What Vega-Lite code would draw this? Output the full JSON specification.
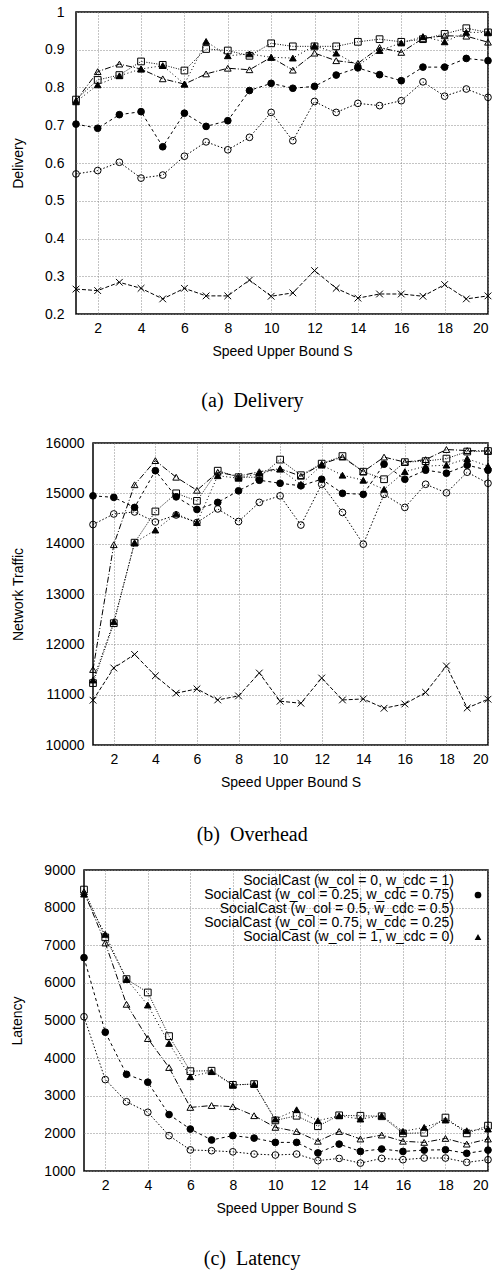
{
"$schema": "https://vega.github.io/schema/vega-lite/v6.json",
"background": "white",
"padding": {"left": 9, "top": 4, "right": 0, "bottom": 0},
"config": {
  "font": "Liberation Sans",
  "view": {"stroke": "black", "strokeWidth": 1.5},
  "axis": {"labelFont": "Liberation Sans", "labelFontSize": 14, "labelColor": "black", "titleFont": "Liberation Sans", "titleFontSize": 14, "titleFontWeight": "normal", "titleColor": "black", "domain": false, "ticks": false, "grid": true, "gridColor": "#888888", "gridDash": [1, 2], "gridWidth": 1, "gridOpacity": 1},
  "title": {"font": "Liberation Serif", "fontSize": 20, "fontWeight": "normal", "color": "black", "orient": "bottom", "anchor": "middle", "frame": "bounds"},
  "legend": {"labelFont": "Liberation Sans", "labelFontSize": 14, "labelColor": "black", "labelLimit": 400, "titleFont": "Liberation Sans"}
},
"datasets": {
"delivery": [
{"S":1,"series":"SocialCast (w_col = 0, w_cdc = 1)","v":0.571},{"S":2,"series":"SocialCast (w_col = 0, w_cdc = 1)","v":0.580},{"S":3,"series":"SocialCast (w_col = 0, w_cdc = 1)","v":0.602},{"S":4,"series":"SocialCast (w_col = 0, w_cdc = 1)","v":0.560},{"S":5,"series":"SocialCast (w_col = 0, w_cdc = 1)","v":0.568},{"S":6,"series":"SocialCast (w_col = 0, w_cdc = 1)","v":0.618},{"S":7,"series":"SocialCast (w_col = 0, w_cdc = 1)","v":0.656},{"S":8,"series":"SocialCast (w_col = 0, w_cdc = 1)","v":0.635},{"S":9,"series":"SocialCast (w_col = 0, w_cdc = 1)","v":0.668},{"S":10,"series":"SocialCast (w_col = 0, w_cdc = 1)","v":0.734},{"S":11,"series":"SocialCast (w_col = 0, w_cdc = 1)","v":0.659},{"S":12,"series":"SocialCast (w_col = 0, w_cdc = 1)","v":0.763},{"S":13,"series":"SocialCast (w_col = 0, w_cdc = 1)","v":0.734},{"S":14,"series":"SocialCast (w_col = 0, w_cdc = 1)","v":0.758},{"S":15,"series":"SocialCast (w_col = 0, w_cdc = 1)","v":0.752},{"S":16,"series":"SocialCast (w_col = 0, w_cdc = 1)","v":0.765},{"S":17,"series":"SocialCast (w_col = 0, w_cdc = 1)","v":0.815},{"S":18,"series":"SocialCast (w_col = 0, w_cdc = 1)","v":0.777},{"S":19,"series":"SocialCast (w_col = 0, w_cdc = 1)","v":0.796},{"S":20,"series":"SocialCast (w_col = 0, w_cdc = 1)","v":0.774},
{"S":1,"series":"SocialCast (w_col = 0.25, w_cdc = 0.75)","v":0.703},{"S":2,"series":"SocialCast (w_col = 0.25, w_cdc = 0.75)","v":0.692},{"S":3,"series":"SocialCast (w_col = 0.25, w_cdc = 0.75)","v":0.728},{"S":4,"series":"SocialCast (w_col = 0.25, w_cdc = 0.75)","v":0.736},{"S":5,"series":"SocialCast (w_col = 0.25, w_cdc = 0.75)","v":0.643},{"S":6,"series":"SocialCast (w_col = 0.25, w_cdc = 0.75)","v":0.732},{"S":7,"series":"SocialCast (w_col = 0.25, w_cdc = 0.75)","v":0.697},{"S":8,"series":"SocialCast (w_col = 0.25, w_cdc = 0.75)","v":0.712},{"S":9,"series":"SocialCast (w_col = 0.25, w_cdc = 0.75)","v":0.792},{"S":10,"series":"SocialCast (w_col = 0.25, w_cdc = 0.75)","v":0.811},{"S":11,"series":"SocialCast (w_col = 0.25, w_cdc = 0.75)","v":0.798},{"S":12,"series":"SocialCast (w_col = 0.25, w_cdc = 0.75)","v":0.803},{"S":13,"series":"SocialCast (w_col = 0.25, w_cdc = 0.75)","v":0.833},{"S":14,"series":"SocialCast (w_col = 0.25, w_cdc = 0.75)","v":0.852},{"S":15,"series":"SocialCast (w_col = 0.25, w_cdc = 0.75)","v":0.834},{"S":16,"series":"SocialCast (w_col = 0.25, w_cdc = 0.75)","v":0.818},{"S":17,"series":"SocialCast (w_col = 0.25, w_cdc = 0.75)","v":0.854},{"S":18,"series":"SocialCast (w_col = 0.25, w_cdc = 0.75)","v":0.854},{"S":19,"series":"SocialCast (w_col = 0.25, w_cdc = 0.75)","v":0.877},{"S":20,"series":"SocialCast (w_col = 0.25, w_cdc = 0.75)","v":0.871},
{"S":1,"series":"SocialCast (w_col = 0.5, w_cdc = 0.5)","v":0.765},{"S":2,"series":"SocialCast (w_col = 0.5, w_cdc = 0.5)","v":0.842},{"S":3,"series":"SocialCast (w_col = 0.5, w_cdc = 0.5)","v":0.862},{"S":4,"series":"SocialCast (w_col = 0.5, w_cdc = 0.5)","v":0.849},{"S":5,"series":"SocialCast (w_col = 0.5, w_cdc = 0.5)","v":0.823},{"S":6,"series":"SocialCast (w_col = 0.5, w_cdc = 0.5)","v":0.809},{"S":7,"series":"SocialCast (w_col = 0.5, w_cdc = 0.5)","v":0.836},{"S":8,"series":"SocialCast (w_col = 0.5, w_cdc = 0.5)","v":0.851},{"S":9,"series":"SocialCast (w_col = 0.5, w_cdc = 0.5)","v":0.847},{"S":10,"series":"SocialCast (w_col = 0.5, w_cdc = 0.5)","v":0.880},{"S":11,"series":"SocialCast (w_col = 0.5, w_cdc = 0.5)","v":0.846},{"S":12,"series":"SocialCast (w_col = 0.5, w_cdc = 0.5)","v":0.891},{"S":13,"series":"SocialCast (w_col = 0.5, w_cdc = 0.5)","v":0.871},{"S":14,"series":"SocialCast (w_col = 0.5, w_cdc = 0.5)","v":0.864},{"S":15,"series":"SocialCast (w_col = 0.5, w_cdc = 0.5)","v":0.906},{"S":16,"series":"SocialCast (w_col = 0.5, w_cdc = 0.5)","v":0.893},{"S":17,"series":"SocialCast (w_col = 0.5, w_cdc = 0.5)","v":0.930},{"S":18,"series":"SocialCast (w_col = 0.5, w_cdc = 0.5)","v":0.937},{"S":19,"series":"SocialCast (w_col = 0.5, w_cdc = 0.5)","v":0.936},{"S":20,"series":"SocialCast (w_col = 0.5, w_cdc = 0.5)","v":0.920},
{"S":1,"series":"SocialCast (w_col = 0.75, w_cdc = 0.25)","v":0.768},{"S":2,"series":"SocialCast (w_col = 0.75, w_cdc = 0.25)","v":0.820},{"S":3,"series":"SocialCast (w_col = 0.75, w_cdc = 0.25)","v":0.833},{"S":4,"series":"SocialCast (w_col = 0.75, w_cdc = 0.25)","v":0.869},{"S":5,"series":"SocialCast (w_col = 0.75, w_cdc = 0.25)","v":0.860},{"S":6,"series":"SocialCast (w_col = 0.75, w_cdc = 0.25)","v":0.845},{"S":7,"series":"SocialCast (w_col = 0.75, w_cdc = 0.25)","v":0.902},{"S":8,"series":"SocialCast (w_col = 0.75, w_cdc = 0.25)","v":0.898},{"S":9,"series":"SocialCast (w_col = 0.75, w_cdc = 0.25)","v":0.884},{"S":10,"series":"SocialCast (w_col = 0.75, w_cdc = 0.25)","v":0.917},{"S":11,"series":"SocialCast (w_col = 0.75, w_cdc = 0.25)","v":0.909},{"S":12,"series":"SocialCast (w_col = 0.75, w_cdc = 0.25)","v":0.909},{"S":13,"series":"SocialCast (w_col = 0.75, w_cdc = 0.25)","v":0.909},{"S":14,"series":"SocialCast (w_col = 0.75, w_cdc = 0.25)","v":0.921},{"S":15,"series":"SocialCast (w_col = 0.75, w_cdc = 0.25)","v":0.928},{"S":16,"series":"SocialCast (w_col = 0.75, w_cdc = 0.25)","v":0.921},{"S":17,"series":"SocialCast (w_col = 0.75, w_cdc = 0.25)","v":0.928},{"S":18,"series":"SocialCast (w_col = 0.75, w_cdc = 0.25)","v":0.942},{"S":19,"series":"SocialCast (w_col = 0.75, w_cdc = 0.25)","v":0.957},{"S":20,"series":"SocialCast (w_col = 0.75, w_cdc = 0.25)","v":0.946},
{"S":1,"series":"SocialCast (w_col = 1, w_cdc = 0)","v":0.762},{"S":2,"series":"SocialCast (w_col = 1, w_cdc = 0)","v":0.807},{"S":3,"series":"SocialCast (w_col = 1, w_cdc = 0)","v":0.831},{"S":4,"series":"SocialCast (w_col = 1, w_cdc = 0)","v":0.849},{"S":5,"series":"SocialCast (w_col = 1, w_cdc = 0)","v":0.858},{"S":6,"series":"SocialCast (w_col = 1, w_cdc = 0)","v":0.809},{"S":7,"series":"SocialCast (w_col = 1, w_cdc = 0)","v":0.922},{"S":8,"series":"SocialCast (w_col = 1, w_cdc = 0)","v":0.884},{"S":9,"series":"SocialCast (w_col = 1, w_cdc = 0)","v":0.889},{"S":10,"series":"SocialCast (w_col = 1, w_cdc = 0)","v":0.880},{"S":11,"series":"SocialCast (w_col = 1, w_cdc = 0)","v":0.878},{"S":12,"series":"SocialCast (w_col = 1, w_cdc = 0)","v":0.911},{"S":13,"series":"SocialCast (w_col = 1, w_cdc = 0)","v":0.891},{"S":14,"series":"SocialCast (w_col = 1, w_cdc = 0)","v":0.858},{"S":15,"series":"SocialCast (w_col = 1, w_cdc = 0)","v":0.898},{"S":16,"series":"SocialCast (w_col = 1, w_cdc = 0)","v":0.918},{"S":17,"series":"SocialCast (w_col = 1, w_cdc = 0)","v":0.935},{"S":18,"series":"SocialCast (w_col = 1, w_cdc = 0)","v":0.921},{"S":19,"series":"SocialCast (w_col = 1, w_cdc = 0)","v":0.946},{"S":20,"series":"SocialCast (w_col = 1, w_cdc = 0)","v":0.946},
{"S":1,"series":"Baseline","v":0.266},{"S":2,"series":"Baseline","v":0.262},{"S":3,"series":"Baseline","v":0.284},{"S":4,"series":"Baseline","v":0.268},{"S":5,"series":"Baseline","v":0.240},{"S":6,"series":"Baseline","v":0.268},{"S":7,"series":"Baseline","v":0.248},{"S":8,"series":"Baseline","v":0.248},{"S":9,"series":"Baseline","v":0.290},{"S":10,"series":"Baseline","v":0.247},{"S":11,"series":"Baseline","v":0.256},{"S":12,"series":"Baseline","v":0.315},{"S":13,"series":"Baseline","v":0.268},{"S":14,"series":"Baseline","v":0.242},{"S":15,"series":"Baseline","v":0.253},{"S":16,"series":"Baseline","v":0.253},{"S":17,"series":"Baseline","v":0.247},{"S":18,"series":"Baseline","v":0.278},{"S":19,"series":"Baseline","v":0.240},{"S":20,"series":"Baseline","v":0.248}
],
"overhead": [
{"S":1,"series":"SocialCast (w_col = 0, w_cdc = 1)","v":14380},{"S":2,"series":"SocialCast (w_col = 0, w_cdc = 1)","v":14590},{"S":3,"series":"SocialCast (w_col = 0, w_cdc = 1)","v":14630},{"S":4,"series":"SocialCast (w_col = 0, w_cdc = 1)","v":14430},{"S":5,"series":"SocialCast (w_col = 0, w_cdc = 1)","v":14570},{"S":6,"series":"SocialCast (w_col = 0, w_cdc = 1)","v":14420},{"S":7,"series":"SocialCast (w_col = 0, w_cdc = 1)","v":14690},{"S":8,"series":"SocialCast (w_col = 0, w_cdc = 1)","v":14440},{"S":9,"series":"SocialCast (w_col = 0, w_cdc = 1)","v":14820},{"S":10,"series":"SocialCast (w_col = 0, w_cdc = 1)","v":14950},{"S":11,"series":"SocialCast (w_col = 0, w_cdc = 1)","v":14370},{"S":12,"series":"SocialCast (w_col = 0, w_cdc = 1)","v":15180},{"S":13,"series":"SocialCast (w_col = 0, w_cdc = 1)","v":14620},{"S":14,"series":"SocialCast (w_col = 0, w_cdc = 1)","v":13990},{"S":15,"series":"SocialCast (w_col = 0, w_cdc = 1)","v":14980},{"S":16,"series":"SocialCast (w_col = 0, w_cdc = 1)","v":14720},{"S":17,"series":"SocialCast (w_col = 0, w_cdc = 1)","v":15180},{"S":18,"series":"SocialCast (w_col = 0, w_cdc = 1)","v":15010},{"S":19,"series":"SocialCast (w_col = 0, w_cdc = 1)","v":15420},{"S":20,"series":"SocialCast (w_col = 0, w_cdc = 1)","v":15200},
{"S":1,"series":"SocialCast (w_col = 0.25, w_cdc = 0.75)","v":14950},{"S":2,"series":"SocialCast (w_col = 0.25, w_cdc = 0.75)","v":14920},{"S":3,"series":"SocialCast (w_col = 0.25, w_cdc = 0.75)","v":14720},{"S":4,"series":"SocialCast (w_col = 0.25, w_cdc = 0.75)","v":15450},{"S":5,"series":"SocialCast (w_col = 0.25, w_cdc = 0.75)","v":14930},{"S":6,"series":"SocialCast (w_col = 0.25, w_cdc = 0.75)","v":14680},{"S":7,"series":"SocialCast (w_col = 0.25, w_cdc = 0.75)","v":14820},{"S":8,"series":"SocialCast (w_col = 0.25, w_cdc = 0.75)","v":15050},{"S":9,"series":"SocialCast (w_col = 0.25, w_cdc = 0.75)","v":15260},{"S":10,"series":"SocialCast (w_col = 0.25, w_cdc = 0.75)","v":15200},{"S":11,"series":"SocialCast (w_col = 0.25, w_cdc = 0.75)","v":15150},{"S":12,"series":"SocialCast (w_col = 0.25, w_cdc = 0.75)","v":15280},{"S":13,"series":"SocialCast (w_col = 0.25, w_cdc = 0.75)","v":15000},{"S":14,"series":"SocialCast (w_col = 0.25, w_cdc = 0.75)","v":14980},{"S":15,"series":"SocialCast (w_col = 0.25, w_cdc = 0.75)","v":15580},{"S":16,"series":"SocialCast (w_col = 0.25, w_cdc = 0.75)","v":15280},{"S":17,"series":"SocialCast (w_col = 0.25, w_cdc = 0.75)","v":15460},{"S":18,"series":"SocialCast (w_col = 0.25, w_cdc = 0.75)","v":15400},{"S":19,"series":"SocialCast (w_col = 0.25, w_cdc = 0.75)","v":15560},{"S":20,"series":"SocialCast (w_col = 0.25, w_cdc = 0.75)","v":15460},
{"S":1,"series":"SocialCast (w_col = 0.5, w_cdc = 0.5)","v":11500},{"S":2,"series":"SocialCast (w_col = 0.5, w_cdc = 0.5)","v":13980},{"S":3,"series":"SocialCast (w_col = 0.5, w_cdc = 0.5)","v":15170},{"S":4,"series":"SocialCast (w_col = 0.5, w_cdc = 0.5)","v":15650},{"S":5,"series":"SocialCast (w_col = 0.5, w_cdc = 0.5)","v":15320},{"S":6,"series":"SocialCast (w_col = 0.5, w_cdc = 0.5)","v":15060},{"S":7,"series":"SocialCast (w_col = 0.5, w_cdc = 0.5)","v":15420},{"S":8,"series":"SocialCast (w_col = 0.5, w_cdc = 0.5)","v":15340},{"S":9,"series":"SocialCast (w_col = 0.5, w_cdc = 0.5)","v":15430},{"S":10,"series":"SocialCast (w_col = 0.5, w_cdc = 0.5)","v":15490},{"S":11,"series":"SocialCast (w_col = 0.5, w_cdc = 0.5)","v":15340},{"S":12,"series":"SocialCast (w_col = 0.5, w_cdc = 0.5)","v":15580},{"S":13,"series":"SocialCast (w_col = 0.5, w_cdc = 0.5)","v":15720},{"S":14,"series":"SocialCast (w_col = 0.5, w_cdc = 0.5)","v":15430},{"S":15,"series":"SocialCast (w_col = 0.5, w_cdc = 0.5)","v":15720},{"S":16,"series":"SocialCast (w_col = 0.5, w_cdc = 0.5)","v":15620},{"S":17,"series":"SocialCast (w_col = 0.5, w_cdc = 0.5)","v":15670},{"S":18,"series":"SocialCast (w_col = 0.5, w_cdc = 0.5)","v":15870},{"S":19,"series":"SocialCast (w_col = 0.5, w_cdc = 0.5)","v":15850},{"S":20,"series":"SocialCast (w_col = 0.5, w_cdc = 0.5)","v":15840},
{"S":1,"series":"SocialCast (w_col = 0.75, w_cdc = 0.25)","v":11230},{"S":2,"series":"SocialCast (w_col = 0.75, w_cdc = 0.25)","v":12420},{"S":3,"series":"SocialCast (w_col = 0.75, w_cdc = 0.25)","v":14020},{"S":4,"series":"SocialCast (w_col = 0.75, w_cdc = 0.25)","v":14640},{"S":5,"series":"SocialCast (w_col = 0.75, w_cdc = 0.25)","v":15000},{"S":6,"series":"SocialCast (w_col = 0.75, w_cdc = 0.25)","v":14850},{"S":7,"series":"SocialCast (w_col = 0.75, w_cdc = 0.25)","v":15450},{"S":8,"series":"SocialCast (w_col = 0.75, w_cdc = 0.25)","v":15320},{"S":9,"series":"SocialCast (w_col = 0.75, w_cdc = 0.25)","v":15320},{"S":10,"series":"SocialCast (w_col = 0.75, w_cdc = 0.25)","v":15670},{"S":11,"series":"SocialCast (w_col = 0.75, w_cdc = 0.25)","v":15360},{"S":12,"series":"SocialCast (w_col = 0.75, w_cdc = 0.25)","v":15590},{"S":13,"series":"SocialCast (w_col = 0.75, w_cdc = 0.25)","v":15740},{"S":14,"series":"SocialCast (w_col = 0.75, w_cdc = 0.25)","v":15430},{"S":15,"series":"SocialCast (w_col = 0.75, w_cdc = 0.25)","v":15280},{"S":16,"series":"SocialCast (w_col = 0.75, w_cdc = 0.25)","v":15620},{"S":17,"series":"SocialCast (w_col = 0.75, w_cdc = 0.25)","v":15640},{"S":18,"series":"SocialCast (w_col = 0.75, w_cdc = 0.25)","v":15690},{"S":19,"series":"SocialCast (w_col = 0.75, w_cdc = 0.25)","v":15830},{"S":20,"series":"SocialCast (w_col = 0.75, w_cdc = 0.25)","v":15840},
{"S":1,"series":"SocialCast (w_col = 1, w_cdc = 0)","v":11290},{"S":2,"series":"SocialCast (w_col = 1, w_cdc = 0)","v":12450},{"S":3,"series":"SocialCast (w_col = 1, w_cdc = 0)","v":14020},{"S":4,"series":"SocialCast (w_col = 1, w_cdc = 0)","v":14270},{"S":5,"series":"SocialCast (w_col = 1, w_cdc = 0)","v":14590},{"S":6,"series":"SocialCast (w_col = 1, w_cdc = 0)","v":14420},{"S":7,"series":"SocialCast (w_col = 1, w_cdc = 0)","v":15350},{"S":8,"series":"SocialCast (w_col = 1, w_cdc = 0)","v":15300},{"S":9,"series":"SocialCast (w_col = 1, w_cdc = 0)","v":15400},{"S":10,"series":"SocialCast (w_col = 1, w_cdc = 0)","v":15480},{"S":11,"series":"SocialCast (w_col = 1, w_cdc = 0)","v":15180},{"S":12,"series":"SocialCast (w_col = 1, w_cdc = 0)","v":15560},{"S":13,"series":"SocialCast (w_col = 1, w_cdc = 0)","v":15360},{"S":14,"series":"SocialCast (w_col = 1, w_cdc = 0)","v":15260},{"S":15,"series":"SocialCast (w_col = 1, w_cdc = 0)","v":15080},{"S":16,"series":"SocialCast (w_col = 1, w_cdc = 0)","v":15430},{"S":17,"series":"SocialCast (w_col = 1, w_cdc = 0)","v":15540},{"S":18,"series":"SocialCast (w_col = 1, w_cdc = 0)","v":15560},{"S":19,"series":"SocialCast (w_col = 1, w_cdc = 0)","v":15690},{"S":20,"series":"SocialCast (w_col = 1, w_cdc = 0)","v":15540},
{"S":1,"series":"Baseline","v":10890},{"S":2,"series":"Baseline","v":11530},{"S":3,"series":"Baseline","v":11800},{"S":4,"series":"Baseline","v":11375},{"S":5,"series":"Baseline","v":11030},{"S":6,"series":"Baseline","v":11115},{"S":7,"series":"Baseline","v":10895},{"S":8,"series":"Baseline","v":10975},{"S":9,"series":"Baseline","v":11430},{"S":10,"series":"Baseline","v":10870},{"S":11,"series":"Baseline","v":10830},{"S":12,"series":"Baseline","v":11330},{"S":13,"series":"Baseline","v":10895},{"S":14,"series":"Baseline","v":10915},{"S":15,"series":"Baseline","v":10730},{"S":16,"series":"Baseline","v":10815},{"S":17,"series":"Baseline","v":11045},{"S":18,"series":"Baseline","v":11570},{"S":19,"series":"Baseline","v":10735},{"S":20,"series":"Baseline","v":10910}
],
"latency": [
{"S":1,"series":"SocialCast (w_col = 0, w_cdc = 1)","v":5100},{"S":2,"series":"SocialCast (w_col = 0, w_cdc = 1)","v":3430},{"S":3,"series":"SocialCast (w_col = 0, w_cdc = 1)","v":2840},{"S":4,"series":"SocialCast (w_col = 0, w_cdc = 1)","v":2560},{"S":5,"series":"SocialCast (w_col = 0, w_cdc = 1)","v":1940},{"S":6,"series":"SocialCast (w_col = 0, w_cdc = 1)","v":1560},{"S":7,"series":"SocialCast (w_col = 0, w_cdc = 1)","v":1540},{"S":8,"series":"SocialCast (w_col = 0, w_cdc = 1)","v":1510},{"S":9,"series":"SocialCast (w_col = 0, w_cdc = 1)","v":1450},{"S":10,"series":"SocialCast (w_col = 0, w_cdc = 1)","v":1425},{"S":11,"series":"SocialCast (w_col = 0, w_cdc = 1)","v":1450},{"S":12,"series":"SocialCast (w_col = 0, w_cdc = 1)","v":1275},{"S":13,"series":"SocialCast (w_col = 0, w_cdc = 1)","v":1335},{"S":14,"series":"SocialCast (w_col = 0, w_cdc = 1)","v":1210},{"S":15,"series":"SocialCast (w_col = 0, w_cdc = 1)","v":1335},{"S":16,"series":"SocialCast (w_col = 0, w_cdc = 1)","v":1300},{"S":17,"series":"SocialCast (w_col = 0, w_cdc = 1)","v":1345},{"S":18,"series":"SocialCast (w_col = 0, w_cdc = 1)","v":1345},{"S":19,"series":"SocialCast (w_col = 0, w_cdc = 1)","v":1230},{"S":20,"series":"SocialCast (w_col = 0, w_cdc = 1)","v":1300},
{"S":1,"series":"SocialCast (w_col = 0.25, w_cdc = 0.75)","v":6670},{"S":2,"series":"SocialCast (w_col = 0.25, w_cdc = 0.75)","v":4690},{"S":3,"series":"SocialCast (w_col = 0.25, w_cdc = 0.75)","v":3570},{"S":4,"series":"SocialCast (w_col = 0.25, w_cdc = 0.75)","v":3360},{"S":5,"series":"SocialCast (w_col = 0.25, w_cdc = 0.75)","v":2500},{"S":6,"series":"SocialCast (w_col = 0.25, w_cdc = 0.75)","v":2115},{"S":7,"series":"SocialCast (w_col = 0.25, w_cdc = 0.75)","v":1825},{"S":8,"series":"SocialCast (w_col = 0.25, w_cdc = 0.75)","v":1940},{"S":9,"series":"SocialCast (w_col = 0.25, w_cdc = 0.75)","v":1875},{"S":10,"series":"SocialCast (w_col = 0.25, w_cdc = 0.75)","v":1760},{"S":11,"series":"SocialCast (w_col = 0.25, w_cdc = 0.75)","v":1760},{"S":12,"series":"SocialCast (w_col = 0.25, w_cdc = 0.75)","v":1480},{"S":13,"series":"SocialCast (w_col = 0.25, w_cdc = 0.75)","v":1715},{"S":14,"series":"SocialCast (w_col = 0.25, w_cdc = 0.75)","v":1520},{"S":15,"series":"SocialCast (w_col = 0.25, w_cdc = 0.75)","v":1585},{"S":16,"series":"SocialCast (w_col = 0.25, w_cdc = 0.75)","v":1520},{"S":17,"series":"SocialCast (w_col = 0.25, w_cdc = 0.75)","v":1555},{"S":18,"series":"SocialCast (w_col = 0.25, w_cdc = 0.75)","v":1565},{"S":19,"series":"SocialCast (w_col = 0.25, w_cdc = 0.75)","v":1470},{"S":20,"series":"SocialCast (w_col = 0.25, w_cdc = 0.75)","v":1555},
{"S":1,"series":"SocialCast (w_col = 0.5, w_cdc = 0.5)","v":8420},{"S":2,"series":"SocialCast (w_col = 0.5, w_cdc = 0.5)","v":7060},{"S":3,"series":"SocialCast (w_col = 0.5, w_cdc = 0.5)","v":5430},{"S":4,"series":"SocialCast (w_col = 0.5, w_cdc = 0.5)","v":4520},{"S":5,"series":"SocialCast (w_col = 0.5, w_cdc = 0.5)","v":3750},{"S":6,"series":"SocialCast (w_col = 0.5, w_cdc = 0.5)","v":2690},{"S":7,"series":"SocialCast (w_col = 0.5, w_cdc = 0.5)","v":2740},{"S":8,"series":"SocialCast (w_col = 0.5, w_cdc = 0.5)","v":2710},{"S":9,"series":"SocialCast (w_col = 0.5, w_cdc = 0.5)","v":2470},{"S":10,"series":"SocialCast (w_col = 0.5, w_cdc = 0.5)","v":2160},{"S":11,"series":"SocialCast (w_col = 0.5, w_cdc = 0.5)","v":2050},{"S":12,"series":"SocialCast (w_col = 0.5, w_cdc = 0.5)","v":1790},{"S":13,"series":"SocialCast (w_col = 0.5, w_cdc = 0.5)","v":2050},{"S":14,"series":"SocialCast (w_col = 0.5, w_cdc = 0.5)","v":1850},{"S":15,"series":"SocialCast (w_col = 0.5, w_cdc = 0.5)","v":1955},{"S":16,"series":"SocialCast (w_col = 0.5, w_cdc = 0.5)","v":1790},{"S":17,"series":"SocialCast (w_col = 0.5, w_cdc = 0.5)","v":1760},{"S":18,"series":"SocialCast (w_col = 0.5, w_cdc = 0.5)","v":1865},{"S":19,"series":"SocialCast (w_col = 0.5, w_cdc = 0.5)","v":1715},{"S":20,"series":"SocialCast (w_col = 0.5, w_cdc = 0.5)","v":1850},
{"S":1,"series":"SocialCast (w_col = 0.75, w_cdc = 0.25)","v":8480},{"S":2,"series":"SocialCast (w_col = 0.75, w_cdc = 0.25)","v":7210},{"S":3,"series":"SocialCast (w_col = 0.75, w_cdc = 0.25)","v":6100},{"S":4,"series":"SocialCast (w_col = 0.75, w_cdc = 0.25)","v":5745},{"S":5,"series":"SocialCast (w_col = 0.75, w_cdc = 0.25)","v":4585},{"S":6,"series":"SocialCast (w_col = 0.75, w_cdc = 0.25)","v":3655},{"S":7,"series":"SocialCast (w_col = 0.75, w_cdc = 0.25)","v":3665},{"S":8,"series":"SocialCast (w_col = 0.75, w_cdc = 0.25)","v":3290},{"S":9,"series":"SocialCast (w_col = 0.75, w_cdc = 0.25)","v":3310},{"S":10,"series":"SocialCast (w_col = 0.75, w_cdc = 0.25)","v":2345},{"S":11,"series":"SocialCast (w_col = 0.75, w_cdc = 0.25)","v":2468},{"S":12,"series":"SocialCast (w_col = 0.75, w_cdc = 0.25)","v":2190},{"S":13,"series":"SocialCast (w_col = 0.75, w_cdc = 0.25)","v":2480},{"S":14,"series":"SocialCast (w_col = 0.75, w_cdc = 0.25)","v":2468},{"S":15,"series":"SocialCast (w_col = 0.75, w_cdc = 0.25)","v":2455},{"S":16,"series":"SocialCast (w_col = 0.75, w_cdc = 0.25)","v":2000},{"S":17,"series":"SocialCast (w_col = 0.75, w_cdc = 0.25)","v":2015},{"S":18,"series":"SocialCast (w_col = 0.75, w_cdc = 0.25)","v":2420},{"S":19,"series":"SocialCast (w_col = 0.75, w_cdc = 0.25)","v":2000},{"S":20,"series":"SocialCast (w_col = 0.75, w_cdc = 0.25)","v":2205},
{"S":1,"series":"SocialCast (w_col = 1, w_cdc = 0)","v":8360},{"S":2,"series":"SocialCast (w_col = 1, w_cdc = 0)","v":7290},{"S":3,"series":"SocialCast (w_col = 1, w_cdc = 0)","v":6100},{"S":4,"series":"SocialCast (w_col = 1, w_cdc = 0)","v":5410},{"S":5,"series":"SocialCast (w_col = 1, w_cdc = 0)","v":4390},{"S":6,"series":"SocialCast (w_col = 1, w_cdc = 0)","v":3505},{"S":7,"series":"SocialCast (w_col = 1, w_cdc = 0)","v":3640},{"S":8,"series":"SocialCast (w_col = 1, w_cdc = 0)","v":3285},{"S":9,"series":"SocialCast (w_col = 1, w_cdc = 0)","v":3310},{"S":10,"series":"SocialCast (w_col = 1, w_cdc = 0)","v":2380},{"S":11,"series":"SocialCast (w_col = 1, w_cdc = 0)","v":2628},{"S":12,"series":"SocialCast (w_col = 1, w_cdc = 0)","v":2336},{"S":13,"series":"SocialCast (w_col = 1, w_cdc = 0)","v":2469},{"S":14,"series":"SocialCast (w_col = 1, w_cdc = 0)","v":2380},{"S":15,"series":"SocialCast (w_col = 1, w_cdc = 0)","v":2469},{"S":16,"series":"SocialCast (w_col = 1, w_cdc = 0)","v":2053},{"S":17,"series":"SocialCast (w_col = 1, w_cdc = 0)","v":2159},{"S":18,"series":"SocialCast (w_col = 1, w_cdc = 0)","v":2354},{"S":19,"series":"SocialCast (w_col = 1, w_cdc = 0)","v":2071},{"S":20,"series":"SocialCast (w_col = 1, w_cdc = 0)","v":2115}
]
},
"vconcat": [
{"hconcat": [
 {"width": 1, "height": 1, "data": {"values": []}, "mark": "point", "encoding": {}, "view": {"stroke": null}},
 {
  "width": 412, "height": 302,
  "title": {"text": "(a)\u00a0\u00a0Delivery", "offset": 33},
  "data": {"name": "delivery"},
  "encoding": {
    "x": {"field": "S", "type": "quantitative", "scale": {"domain": [1, 20], "nice": false, "zero": false}, "axis": {"values": [2,4,6,8,10,12,14,16,18,20], "title": "Speed Upper Bound S", "labelPadding": 7, "titlePadding": 9}},
    "y": {"field": "v", "type": "quantitative", "scale": {"domain": [0.2, 1], "nice": false, "zero": false}, "axis": {"values": [0.2,0.3,0.4,0.5,0.6,0.7,0.8,0.9,1], "format": "~g", "title": "Delivery", "labelPadding": 12, "titlePadding": 19}}
  },
  "layer": [
    {"mark": {"type": "line", "color": "black", "strokeWidth": 1},
     "encoding": {"strokeDash": {"field": "series", "type": "nominal", "legend": null,
       "scale": {"domain": ["SocialCast (w_col = 0, w_cdc = 1)","SocialCast (w_col = 0.25, w_cdc = 0.75)","SocialCast (w_col = 0.5, w_cdc = 0.5)","SocialCast (w_col = 0.75, w_cdc = 0.25)","SocialCast (w_col = 1, w_cdc = 0)","Baseline"],
                 "range": [[1.5,2],[3,3],[6,2,1,2],[1,1.5],[1,2.5],[4,2]]}}}},
    {"mark": {"type": "point", "filled": true, "stroke": "black", "strokeWidth": 1, "size": 45, "opacity": 1},
     "encoding": {
       "shape": {"field": "series", "type": "nominal", "legend": null,
         "scale": {"domain": ["SocialCast (w_col = 0, w_cdc = 1)","SocialCast (w_col = 0.25, w_cdc = 0.75)","SocialCast (w_col = 0.5, w_cdc = 0.5)","SocialCast (w_col = 0.75, w_cdc = 0.25)","SocialCast (w_col = 1, w_cdc = 0)","Baseline"],
                   "range": ["circle","circle","triangle-up","square","triangle-up","M-1,-1L1,1M-1,1L1,-1"]}},
       "fill": {"field": "series", "type": "nominal", "legend": null,
         "scale": {"domain": ["SocialCast (w_col = 0, w_cdc = 1)","SocialCast (w_col = 0.25, w_cdc = 0.75)","SocialCast (w_col = 0.5, w_cdc = 0.5)","SocialCast (w_col = 0.75, w_cdc = 0.25)","SocialCast (w_col = 1, w_cdc = 0)","Baseline"],
                   "range": ["transparent","black","transparent","transparent","black","transparent"]}}}}
  ]
 }], "spacing": 0},
{"vconcat": [
 {"hconcat": [
  {"width": 1, "height": 1, "data": {"values": []}, "mark": "point", "encoding": {}, "view": {"stroke": null}},
  {
  "width": 395, "height": 302,
  "title": {"text": "(b)\u00a0\u00a0Overhead", "offset": 36},
  "data": {"name": "overhead"},
  "encoding": {
    "x": {"field": "S", "type": "quantitative", "scale": {"domain": [1, 20], "nice": false, "zero": false}, "axis": {"values": [2,4,6,8,10,12,14,16,18,20], "title": "Speed Upper Bound S", "labelPadding": 7, "titlePadding": 9}},
    "y": {"field": "v", "type": "quantitative", "scale": {"domain": [10000, 16000], "nice": false, "zero": false}, "axis": {"values": [10000,11000,12000,13000,14000,15000,16000], "format": "d", "title": "Network Traffic", "labelPadding": 9, "titlePadding": 20}}
  },
  "layer": [
    {"mark": {"type": "line", "color": "black", "strokeWidth": 1},
     "encoding": {"strokeDash": {"field": "series", "type": "nominal", "legend": null,
       "scale": {"domain": ["SocialCast (w_col = 0, w_cdc = 1)","SocialCast (w_col = 0.25, w_cdc = 0.75)","SocialCast (w_col = 0.5, w_cdc = 0.5)","SocialCast (w_col = 0.75, w_cdc = 0.25)","SocialCast (w_col = 1, w_cdc = 0)","Baseline"],
                 "range": [[1.5,2],[3,3],[6,2,1,2],[1,1.5],[1,2.5],[4,2]]}}}},
    {"mark": {"type": "point", "filled": true, "stroke": "black", "strokeWidth": 1, "size": 45, "opacity": 1},
     "encoding": {
       "shape": {"field": "series", "type": "nominal", "legend": null,
         "scale": {"domain": ["SocialCast (w_col = 0, w_cdc = 1)","SocialCast (w_col = 0.25, w_cdc = 0.75)","SocialCast (w_col = 0.5, w_cdc = 0.5)","SocialCast (w_col = 0.75, w_cdc = 0.25)","SocialCast (w_col = 1, w_cdc = 0)","Baseline"],
                   "range": ["circle","circle","triangle-up","square","triangle-up","M-1,-1L1,1M-1,1L1,-1"]}},
       "fill": {"field": "series", "type": "nominal", "legend": null,
         "scale": {"domain": ["SocialCast (w_col = 0, w_cdc = 1)","SocialCast (w_col = 0.25, w_cdc = 0.75)","SocialCast (w_col = 0.5, w_cdc = 0.5)","SocialCast (w_col = 0.75, w_cdc = 0.25)","SocialCast (w_col = 1, w_cdc = 0)","Baseline"],
                   "range": ["transparent","black","transparent","transparent","black","transparent"]}}}}
  ]
 }], "spacing": 0},
 {"hconcat": [
  {"width": 1, "height": 1, "data": {"values": []}, "mark": "point", "encoding": {}, "view": {"stroke": null}},
  {
  "width": 404, "height": 301,
  "title": {"text": "(c)\u00a0\u00a0Latency", "offset": 34},
  "data": {"name": "latency"},
  "encoding": {
    "x": {"field": "S", "type": "quantitative", "scale": {"domain": [1, 20], "nice": false, "zero": false}, "axis": {"values": [2,4,6,8,10,12,14,16,18,20], "title": "Speed Upper Bound S", "labelPadding": 7, "titlePadding": 9}},
    "y": {"field": "v", "type": "quantitative", "scale": {"domain": [1000, 9000], "nice": false, "zero": false}, "axis": {"values": [1000,2000,3000,4000,5000,6000,7000,8000,9000], "format": "d", "title": "Latency", "labelPadding": 9, "titlePadding": 19}}
  },
  "layer": [
    {"mark": {"type": "line", "color": "black", "strokeWidth": 1},
     "encoding": {"strokeDash": {"field": "series", "type": "nominal", "legend": null,
       "scale": {"domain": ["SocialCast (w_col = 1, w_cdc = 0)","SocialCast (w_col = 0.75, w_cdc = 0.25)","SocialCast (w_col = 0.5, w_cdc = 0.5)","SocialCast (w_col = 0.25, w_cdc = 0.75)","SocialCast (w_col = 0, w_cdc = 1)"],
                 "range": [[1,2.5],[1,1.5],[6,2,1,2],[3,3],[1.5,2]]}}}},
    {"mark": {"type": "point", "filled": true, "stroke": "black", "strokeWidth": 1, "size": 45, "opacity": 1},
     "encoding": {
       "shape": {"field": "series", "type": "nominal",
         "legend": {"orient": "top-right", "offset": 4, "title": "\u00a0\u00a0\u00a0", "titleOrient": "right", "titlePadding": 1, "titleFontSize": 14, "padding": 0, "labelAlign": "right", "labelOffset": -31, "rowPadding": 0, "symbolSize": 45, "symbolStrokeColor": "black", "symbolStrokeWidth": 1,
           "encode": {"symbols": {"update": {"stroke": {"value": "black"}, "strokeWidth": {"value": 1}, "shape": {"signal": "indexof(datum.value, 'w_col = 0,') >= 0 ? 'M-6,0h0.3M-5.25,0h0.3M-4.5,0h0.3M-3.75,0h0.3M-3,0h0.3M-2.25,0h0.3M-1.5,0h0.2M1.3,0h0.2M1.95,0h0.3M2.7,0h0.3M3.45,0h0.3M4.2,0h0.3M4.95,0h0.3M5.7,0h0.3M-1.1,0A1.1,1.1,0,1,1,1.1,0A1.1,1.1,0,1,1,-1.1,0Z' : indexof(datum.value, 'w_col = 0.25') >= 0 ? 'M-6,0h0.45M-5.1,0h0.45M-4.2,0h0.45M-3.3,0h0.45M-2.4,0h0.45M1.5,0h0.45M2.4,0h0.45M3.3,0h0.45M4.2,0h0.45M5.1,0h0.45M-1.1,0A1.1,1.1,0,1,1,1.1,0A1.1,1.1,0,1,1,-1.1,0Z' : indexof(datum.value, 'w_col = 0.5,') >= 0 ? 'M-6,0h1.2M-4.35,0h0.3M-3.6,0h1.2M-1.95,0h0.3M1.65,0h0.3M2.4,0h1.2M4.05,0h0.3M4.8,0h1.2M0,-1.25L1.25,0.9L-1.25,0.9Z' : indexof(datum.value, 'w_col = 0.75') >= 0 ? 'M-6,0h0.3M-5.4,0h0.3M-4.8,0h0.3M-4.2,0h0.3M-3.6,0h0.3M-3,0h0.3M-2.4,0h0.3M-1.8,0h0.3M1.5,0h0.3M2.1,0h0.3M2.7,0h0.3M3.3,0h0.3M3.9,0h0.3M4.5,0h0.3M5.1,0h0.3M5.7,0h0.3M-1,-1H1V1H-1Z' : 'M-6,0h0.3M-5.1,0h0.3M-4.2,0h0.3M-3.3,0h0.3M-2.4,0h0.3M1.8,0h0.3M2.7,0h0.3M3.6,0h0.3M4.5,0h0.3M5.4,0h0.3M0,-1.25L1.25,0.9L-1.25,0.9Z'"}}}}},
         "scale": {"domain": ["SocialCast (w_col = 0, w_cdc = 1)","SocialCast (w_col = 0.25, w_cdc = 0.75)","SocialCast (w_col = 0.5, w_cdc = 0.5)","SocialCast (w_col = 0.75, w_cdc = 0.25)","SocialCast (w_col = 1, w_cdc = 0)"],
                   "range": ["circle","circle","triangle-up","square","triangle-up"]}},
       "fill": {"field": "series", "type": "nominal",
         "legend": {"orient": "top-right", "offset": 4, "title": "\u00a0\u00a0\u00a0", "titleOrient": "right", "titlePadding": 1, "titleFontSize": 14, "padding": 0, "labelAlign": "right", "labelOffset": -31, "rowPadding": 0, "symbolSize": 45, "symbolStrokeColor": "black", "symbolStrokeWidth": 1,
           "encode": {"symbols": {"update": {"stroke": {"value": "black"}, "strokeWidth": {"value": 1}, "shape": {"signal": "indexof(datum.value, 'w_col = 0,') >= 0 ? 'M-6,0h0.3M-5.25,0h0.3M-4.5,0h0.3M-3.75,0h0.3M-3,0h0.3M-2.25,0h0.3M-1.5,0h0.2M1.3,0h0.2M1.95,0h0.3M2.7,0h0.3M3.45,0h0.3M4.2,0h0.3M4.95,0h0.3M5.7,0h0.3M-1.1,0A1.1,1.1,0,1,1,1.1,0A1.1,1.1,0,1,1,-1.1,0Z' : indexof(datum.value, 'w_col = 0.25') >= 0 ? 'M-6,0h0.45M-5.1,0h0.45M-4.2,0h0.45M-3.3,0h0.45M-2.4,0h0.45M1.5,0h0.45M2.4,0h0.45M3.3,0h0.45M4.2,0h0.45M5.1,0h0.45M-1.1,0A1.1,1.1,0,1,1,1.1,0A1.1,1.1,0,1,1,-1.1,0Z' : indexof(datum.value, 'w_col = 0.5,') >= 0 ? 'M-6,0h1.2M-4.35,0h0.3M-3.6,0h1.2M-1.95,0h0.3M1.65,0h0.3M2.4,0h1.2M4.05,0h0.3M4.8,0h1.2M0,-1.25L1.25,0.9L-1.25,0.9Z' : indexof(datum.value, 'w_col = 0.75') >= 0 ? 'M-6,0h0.3M-5.4,0h0.3M-4.8,0h0.3M-4.2,0h0.3M-3.6,0h0.3M-3,0h0.3M-2.4,0h0.3M-1.8,0h0.3M1.5,0h0.3M2.1,0h0.3M2.7,0h0.3M3.3,0h0.3M3.9,0h0.3M4.5,0h0.3M5.1,0h0.3M5.7,0h0.3M-1,-1H1V1H-1Z' : 'M-6,0h0.3M-5.1,0h0.3M-4.2,0h0.3M-3.3,0h0.3M-2.4,0h0.3M1.8,0h0.3M2.7,0h0.3M3.6,0h0.3M4.5,0h0.3M5.4,0h0.3M0,-1.25L1.25,0.9L-1.25,0.9Z'"}}}}},
         "scale": {"domain": ["SocialCast (w_col = 0, w_cdc = 1)","SocialCast (w_col = 0.25, w_cdc = 0.75)","SocialCast (w_col = 0.5, w_cdc = 0.5)","SocialCast (w_col = 0.75, w_cdc = 0.25)","SocialCast (w_col = 1, w_cdc = 0)"],
                   "range": ["transparent","black","transparent","transparent","black"]}}}}
  ]
 }], "spacing": 0, "resolve": {"scale": {"shape": "independent", "fill": "independent", "strokeDash": "independent"}}}
], "spacing": 16, "resolve": {"scale": {"shape": "independent", "fill": "independent", "strokeDash": "independent"}}}
],
"spacing": 23,
"resolve": {"scale": {"shape": "independent", "fill": "independent", "strokeDash": "independent"}}
}
